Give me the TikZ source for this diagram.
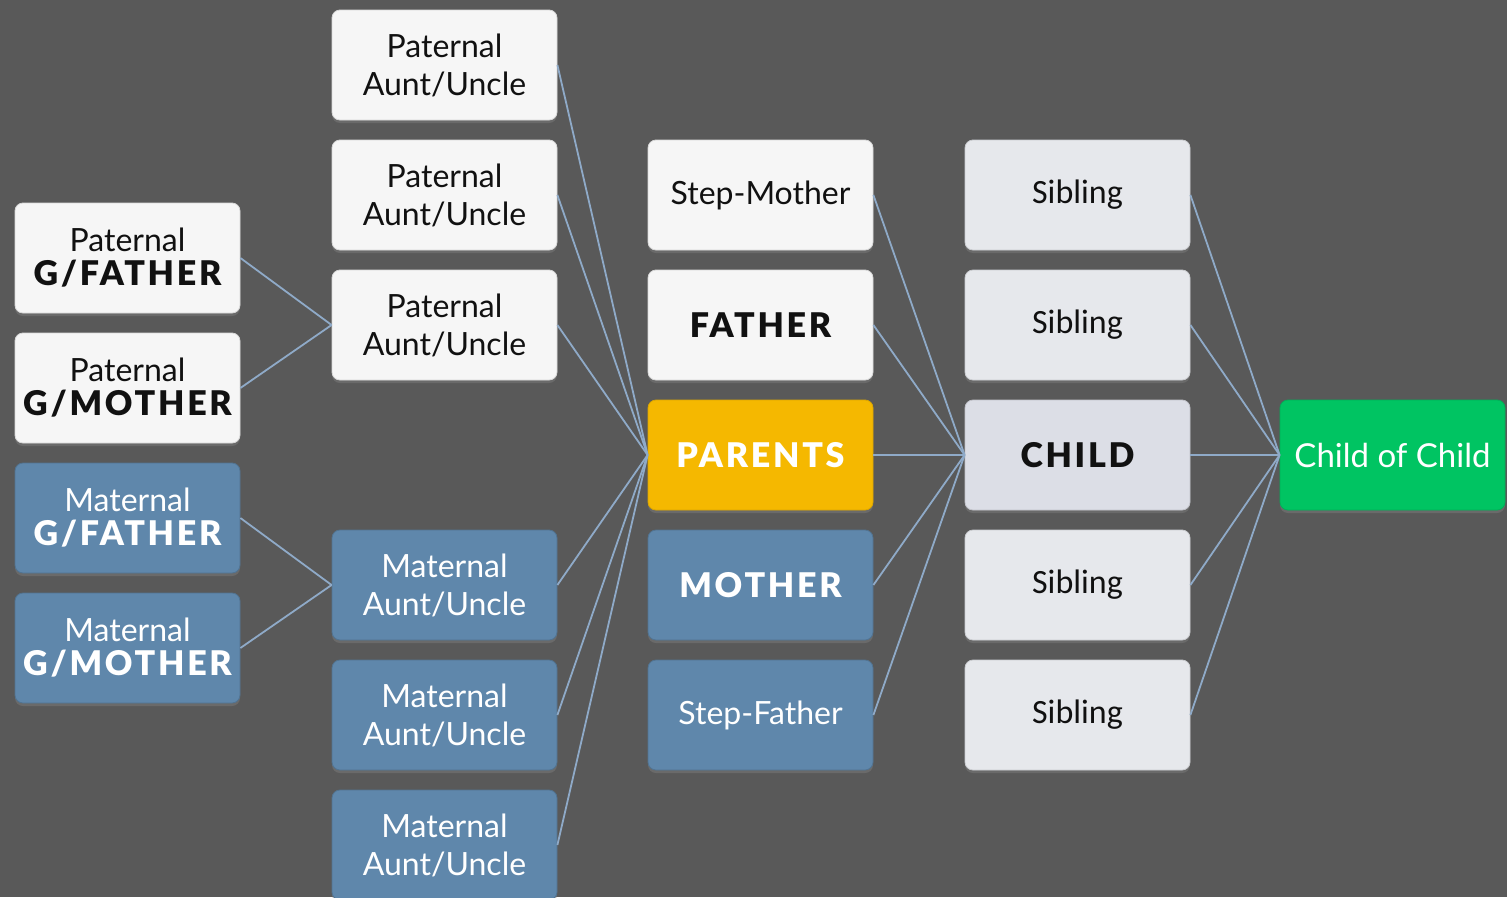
\documentclass[tikz,border=0pt]{standalone}
\usepackage{fontspec}
\setmainfont{Lato}
\newfontfamily\calib{Carlito}
\IfFontExistsTF{Lato Black}
  {\newfontfamily\heavy[LetterSpace=8]{Lato Black}}
  {\newfontfamily\heavy[LetterSpace=11,FakeBold=1.5]{Lato Bold}}
\usetikzlibrary{shadows}
\definecolor{bg}{RGB}{89,89,89}
\definecolor{wfill}{RGB}{246,246,246}
\definecolor{sfill}{RGB}{230,232,236}
\definecolor{cfill}{RGB}{220,222,230}
\definecolor{bfill}{RGB}{95,135,171}
\definecolor{yfill}{RGB}{245,184,0}
\definecolor{gfill}{RGB}{0,196,98}
\definecolor{link}{RGB}{143,170,200}
\definecolor{ink}{RGB}{17,17,17}
\newcommand{\hv}{\heavy\fontsize{34}{38}\selectfont}
\tikzset{
  box/.style={rectangle, rounded corners=8pt, minimum width=225pt, minimum height=110pt,
    align=center, inner sep=2pt,
    drop shadow={shadow xshift=0pt, shadow yshift=-3pt, opacity=0.45},
    font=\fontsize{32}{38}\selectfont},
  wbox/.style={box, fill=wfill, draw=white!85!black, line width=0.8pt, text=ink},
  bbox/.style={box, fill=bfill, draw=bfill!85!black, line width=0.8pt, text=white},
  sbox/.style={box, fill=sfill, draw=sfill!88!black, line width=0.8pt, text=ink, font=\calib\fontsize{34}{38}\selectfont},
  cbox/.style={box, fill=cfill, draw=cfill!88!black, line width=0.8pt, text=ink, font=\hv},
  ybox/.style={box, fill=yfill, draw=yfill!90!black, line width=0.8pt, text=white, font=\hv},
  gbox/.style={box, fill=gfill, draw=gfill!90!black, line width=0.8pt, text=white, font=\fontsize{33}{38}\selectfont},
  big/.style={font=\hv},
  conn/.style={draw=link, line width=1.8pt}
}
\begin{document}
\begin{tikzpicture}[x=1pt,y=-1pt]
\useasboundingbox (0,0) rectangle (1507,897);
\clip (0,0) rectangle (1507,897);
\fill[bg] (0,0) rectangle (1507,897);
% column 1
\node[wbox] (pgf) at (127.5,258) {Paternal\\[-4pt]{\hv G/FATHER}};
\node[wbox] (pgm) at (127.5,388) {Paternal\\[-4pt]{\hv G/MOTHER}};
\node[bbox] (mgf) at (127.5,518) {Maternal\\[-4pt]{\hv G/FATHER}};
\node[bbox] (mgm) at (127.5,648) {Maternal\\[-4pt]{\hv G/MOTHER}};
% column 2
\node[wbox] (pa1) at (444.5,65) {Paternal\\Aunt/Uncle};
\node[wbox] (pa2) at (444.5,195) {Paternal\\Aunt/Uncle};
\node[wbox] (pa3) at (444.5,325) {Paternal\\Aunt/Uncle};
\node[bbox] (ma1) at (444.5,585) {Maternal\\Aunt/Uncle};
\node[bbox] (ma2) at (444.5,715) {Maternal\\Aunt/Uncle};
\node[bbox] (ma3) at (444.5,845) {Maternal\\Aunt/Uncle};
% column 3
\node[wbox] (smo) at (760.5,195) {Step-Mother};
\node[wbox, big] (fa) at (760.5,325) {FATHER};
\node[ybox] (par) at (760.5,455) {PARENTS};
\node[bbox, big] (mo) at (760.5,585) {MOTHER};
\node[bbox] (sfa) at (760.5,715) {Step-Father};
% column 4
\node[sbox] (s1) at (1077.5,195) {Sibling};
\node[sbox] (s2) at (1077.5,325) {Sibling};
\node[cbox] (ch) at (1077.5,455) {CHILD};
\node[sbox] (s3) at (1077.5,585) {Sibling};
\node[sbox] (s4) at (1077.5,715) {Sibling};
% column 5
\node[gbox] (coc) at (1392.5,455) {Child of Child};
% connectors
\foreach \a in {pgf,pgm} \draw[conn] (\a.east) -- (pa3.west);
\foreach \a in {mgf,mgm} \draw[conn] (\a.east) -- (ma1.west);
\foreach \a in {pa1,pa2,pa3,ma1,ma2,ma3} \draw[conn] (\a.east) -- (par.west);
\foreach \a in {smo,fa,par,mo,sfa} \draw[conn] (\a.east) -- (ch.west);
\foreach \a in {s1,s2,ch,s3,s4} \draw[conn] (\a.east) -- (coc.west);
\end{tikzpicture}
\end{document}
